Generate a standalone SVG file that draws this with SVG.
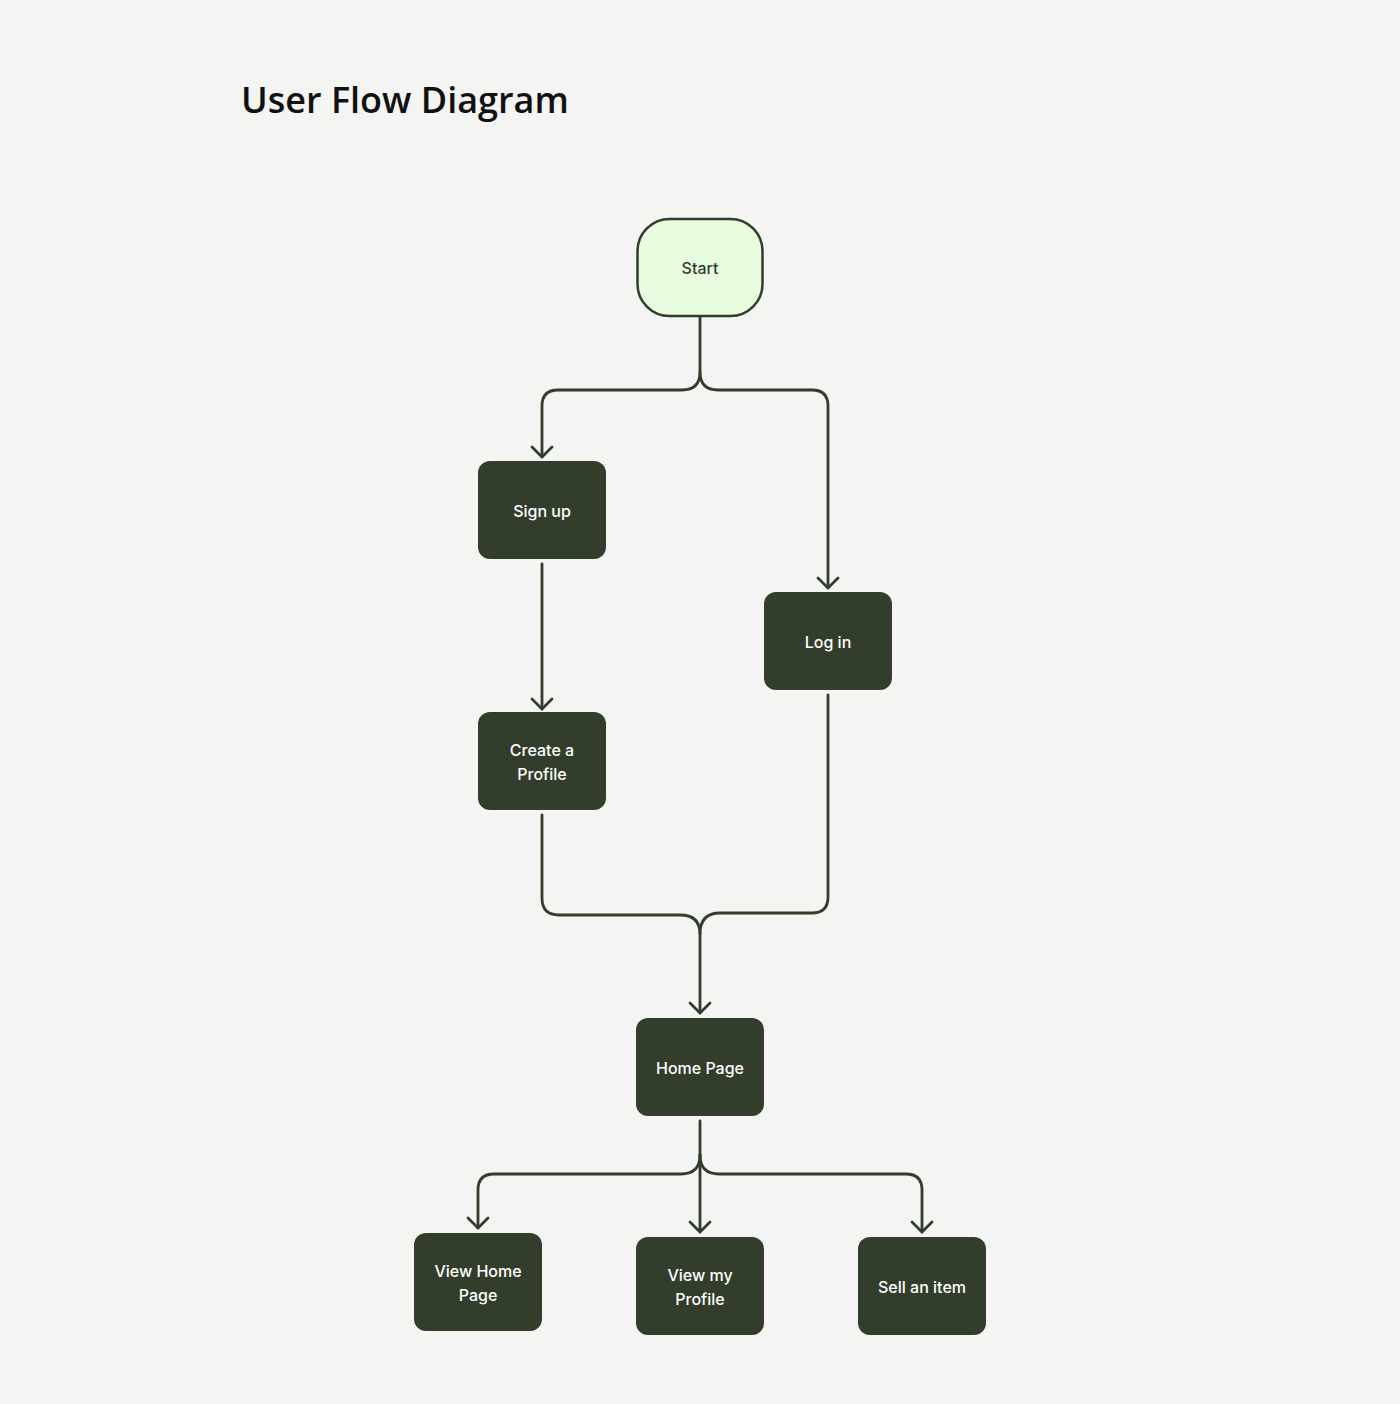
<svg xmlns="http://www.w3.org/2000/svg" width="1400" height="1404" viewBox="0 0 1400 1404">
<defs>
<style>
.bg{fill:#f4f4f2}
.title{font-family:"Open Sans","Noto Sans",sans-serif;font-size:36px;font-weight:600;fill:#111}
.box{fill:#323d2c}
.start{fill:#e8fddf;stroke:#323d2c;stroke-width:2.5}
.lbl{font-family:Inter,"Noto Sans",sans-serif;font-size:16px;font-weight:500;fill:#ffffff;text-anchor:middle}
.lbl-dark{font-family:Inter,"Noto Sans",sans-serif;font-size:16px;font-weight:500;fill:#323d2c;text-anchor:middle}
.conn path{fill:none;stroke:#323d2c;stroke-width:2.8;stroke-linecap:round;stroke-linejoin:round}
</style>
<marker id="arr" viewBox="0 0 14 24" refX="12" refY="12" markerWidth="14" markerHeight="24" markerUnits="userSpaceOnUse" orient="auto">
<path d="M2,2 L12,12 L2,22" fill="none" stroke="#323d2c" stroke-width="2.8" stroke-linecap="round" stroke-linejoin="round"/>
</marker>
</defs>
<rect class="bg" x="0" y="0" width="1400" height="1404"/>
<text class="title" x="241" y="113">User Flow Diagram</text>

<g class="conn" id="connectors">
<path d="M700,317 V372 Q700,390 682,390 H558 Q542,390 542,406 V457" marker-end="url(#arr)"/>
<path d="M700,372 Q700,390 718,390 H812 Q828,390 828,406 V588" marker-end="url(#arr)"/>
<path d="M542,564 V709" marker-end="url(#arr)"/>
<path d="M542,815 V898 Q542,915 559,915 H680 Q700,915 700,934"/>
<path d="M828,695 V897 Q828,913 812,913 H720 Q700,913 700,934 V1013" marker-end="url(#arr)"/>
<path d="M700,1121 V1155 Q700,1174 681,1174 H494 Q478,1174 478,1190 V1228" marker-end="url(#arr)"/>
<path d="M700,1155 V1232" marker-end="url(#arr)"/>
<path d="M700,1155 Q700,1174 719,1174 H906 Q922,1174 922,1190 V1232" marker-end="url(#arr)"/>
</g>

<g id="node-start">
<rect class="start" x="637.5" y="219" width="125" height="97" rx="32"/>
<text class="lbl-dark" x="700" y="274">Start</text>
</g>
<g id="node-signup">
<rect class="box" x="478" y="461" width="128" height="98" rx="12"/>
<text class="lbl" x="542" y="517">Sign up</text>
</g>
<g id="node-login">
<rect class="box" x="764" y="592" width="128" height="98" rx="12"/>
<text class="lbl" x="828" y="648">Log in</text>
</g>
<g id="node-profile">
<rect class="box" x="478" y="712" width="128" height="98" rx="12"/>
<text class="lbl" x="542" y="756">Create a</text>
<text class="lbl" x="542" y="780">Profile</text>
</g>
<g id="node-home">
<rect class="box" x="636" y="1018" width="128" height="98" rx="12"/>
<text class="lbl" x="700" y="1074">Home Page</text>
</g>
<g id="node-viewhome">
<rect class="box" x="414" y="1233" width="128" height="98" rx="12"/>
<text class="lbl" x="478" y="1277">View Home</text>
<text class="lbl" x="478" y="1301">Page</text>
</g>
<g id="node-viewprofile">
<rect class="box" x="636" y="1237" width="128" height="98" rx="12"/>
<text class="lbl" x="700" y="1281">View my</text>
<text class="lbl" x="700" y="1305">Profile</text>
</g>
<g id="node-sell">
<rect class="box" x="858" y="1237" width="128" height="98" rx="12"/>
<text class="lbl" x="922" y="1293">Sell an item</text>
</g>
</svg>
